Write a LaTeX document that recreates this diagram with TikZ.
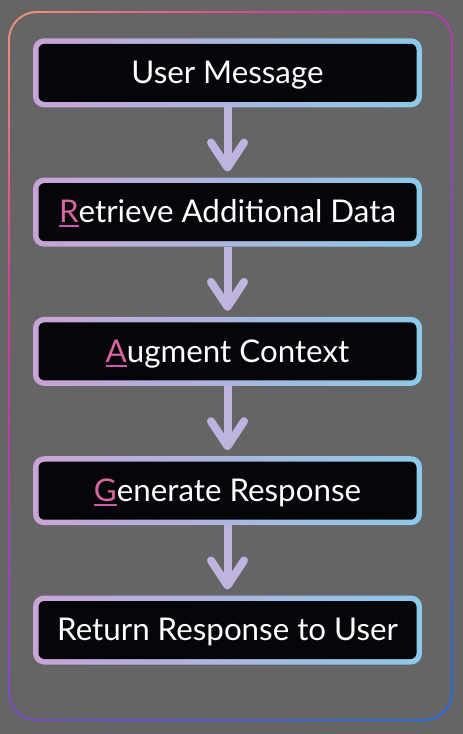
\documentclass[tikz,border=0pt]{standalone}
\usepackage{fontspec}
\setmainfont{Lato}
\usetikzlibrary{arrows.meta,positioning}

\definecolor{bggray}{HTML}{656565}
\definecolor{boxblack}{HTML}{04060A}
\definecolor{boxleft}{HTML}{C9A3D7}
\definecolor{boxright}{HTML}{8BC9E9}
\definecolor{arrowcol}{HTML}{C0B3E0}
\definecolor{ragpink}{HTML}{DA649F}
\definecolor{ragline}{HTML}{D257A8}
\definecolor{framesalmon}{HTML}{F4907A}
\definecolor{framepink}{HTML}{D63C98}
\definecolor{framepurple}{HTML}{9A42C2}
\definecolor{frameblue}{HTML}{1E6AE6}

\pgfdeclarehorizontalshading{framering}{100bp}{color(0bp)=(framesalmon); color(15bp)=(framesalmon); color(32bp)=(framepink); color(50bp)=(framepurple); color(85bp)=(frameblue); color(100bp)=(frameblue)}

% coloured, underlined first letter of R, A, G
\newcommand{\ragfirst}[1]{{\color{ragpink}\setbox0\hbox{#1}\rlap{\color{ragline}\rule[-4.5pt]{\wd0}{2pt}}\box0}}

\begin{document}
\begin{tikzpicture}[x=1pt,y=-1pt,
  stepbox/.style={rounded corners=11pt,minimum width=389pt,minimum height=69pt,inner sep=0pt,outer sep=0pt,
    left color=boxleft,right color=boxright,text=white,font=\fontsize{31.3}{36}\selectfont,
    text height=26.5pt,text depth=5pt,
    path picture={\fill[boxblack,rounded corners=6pt] ([shift={(5.5pt,5.5pt)}]path picture bounding box.south west) rectangle ([shift={(-5.5pt,-5.5pt)}]path picture bounding box.north east);}},
  flow/.style={line width=8pt,arrowcol,-{Straight Barb[length=25pt,width=33pt,round]},shorten >=6pt}]
\fill[bggray] (0,0) rectangle (463,734);
\useasboundingbox (0,0) rectangle (463,734);
% frame
\shade[shading=framering,shading angle=-45,rounded corners=29pt] (8,11) rectangle (453,721);
\fill[bggray,rounded corners=27pt] (10,13) rectangle (451,719);
% steps
\node[stepbox] (user) at (227.5,72.8) {User Message};
\node[stepbox,below=70.3pt of user] (retrieve) {\ragfirst{R}etrieve Additional Data};
\node[stepbox,below=70.3pt of retrieve] (augment) {\ragfirst{A}ugment Context};
\node[stepbox,below=70.3pt of augment] (generate) {\ragfirst{G}enerate Response};
\node[stepbox,below=70.3pt of generate] (answer) {Return Response to User};
\foreach \a/\b in {user/retrieve,retrieve/augment,augment/generate,generate/answer}{\draw[flow] (\a) -- (\b);}
\end{tikzpicture}
\end{document}
